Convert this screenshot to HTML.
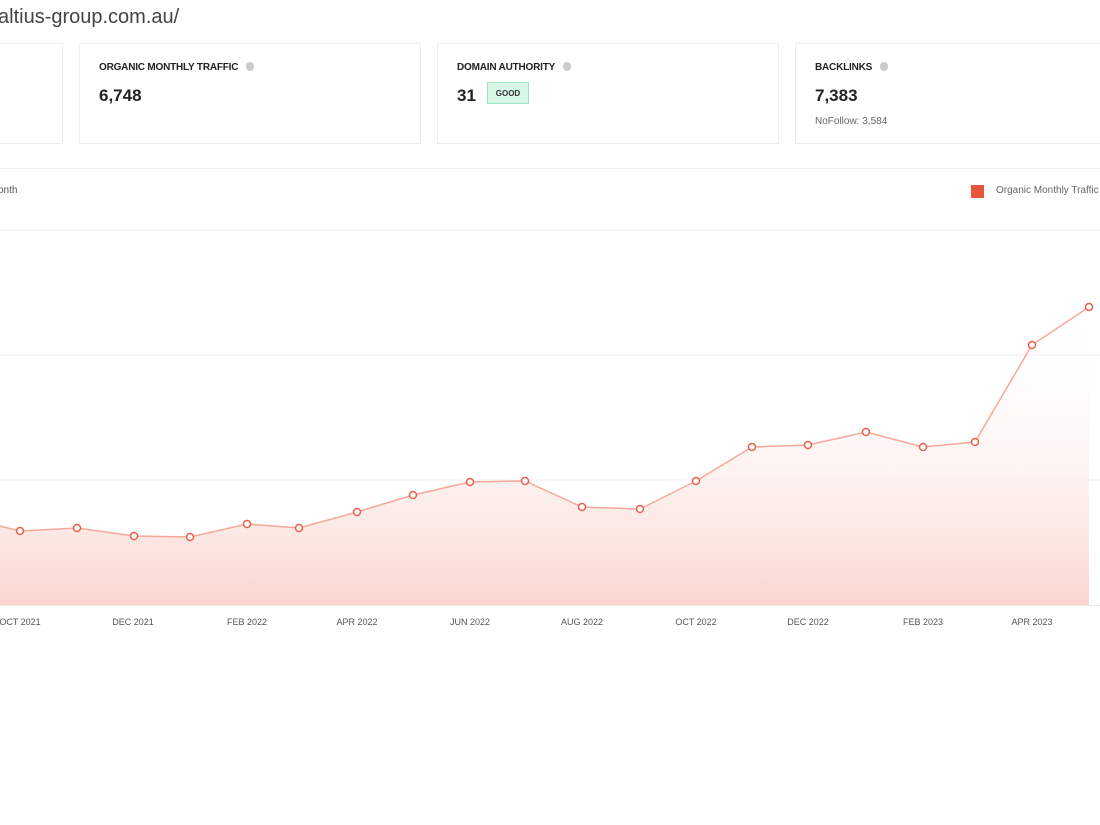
<!DOCTYPE html>
<html><head><meta charset="utf-8"><style>
body{margin:0;width:1100px;height:825px;background:#fff;font-family:"Liberation Sans",sans-serif;position:relative;overflow:hidden}
.t{position:absolute;left:-2px;top:6px;font-size:20px;color:#444}
.c{position:absolute;top:43px;height:101px;border:1px solid #eceef0;background:#fff;box-sizing:border-box}
.h{position:absolute;left:19px;top:18px;font-size:10px;font-weight:bold;color:#222;letter-spacing:-.2px}
.h i{display:inline-block;width:8px;height:9px;border-radius:4px;background:#ccc;margin-left:8px;vertical-align:-1px}
.v{position:absolute;left:19px;top:42px;font-size:17px;font-weight:bold;color:#222}
.g{position:absolute;left:49px;top:38px;width:42px;height:22px;background:#d8f7e6;border:1px solid #9ee6c0;font-size:8px;color:#333;text-align:center;line-height:22px;font-weight:bold;box-sizing:border-box}
.n{position:absolute;left:19px;top:72px;font-size:10px;color:#666}
.xl{position:absolute;top:617px;font-size:9px;color:#555;transform:translateX(-50%)}
</style></head><body>
<div class="t">altius-group.com.au/</div>
<div class="c" style="left:-5px;width:68px"></div>
<div class="c" style="left:79px;width:342px"><div class="h">ORGANIC MONTHLY TRAFFIC<i></i></div><div class="v">6,748</div></div>
<div class="c" style="left:437px;width:342px"><div class="h">DOMAIN AUTHORITY<i></i></div><div class="v">31</div><div class="g">GOOD</div></div>
<div class="c" style="left:795px;width:320px"><div class="h">BACKLINKS<i></i></div><div class="v">7,383</div><div class="n">NoFollow: 3,584</div></div>
<div style="position:absolute;left:0;top:168px;width:1100px;height:1px;background:#f0f0f0"></div>
<div style="position:absolute;left:-2px;top:185px;font-size:10px;color:#555">onth</div>
<div style="position:absolute;left:971px;top:185px;width:13px;height:13px;background:#e8553a"></div>
<div style="position:absolute;left:996px;top:185px;font-size:10px;color:#666;white-space:nowrap">Organic Monthly Traffic</div>
<svg style="position:absolute;left:0;top:0" width="1100" height="825">
<defs><linearGradient id="gr" x1="0" y1="0" x2="0" y2="1"><stop offset="0" stop-color="#fff" stop-opacity="0"/><stop offset="1" stop-color="#f9d6cf"/></linearGradient></defs>
<g stroke="#f4eeee" stroke-width="1"><line x1="0" y1="230" x2="1100" y2="230"/><line x1="0" y1="355" x2="1100" y2="355"/><line x1="0" y1="480" x2="1100" y2="480"/></g>
<line x1="0" y1="605.5" x2="1100" y2="605.5" stroke="#e8e8e8"/>
<path d="M0,526 L20,531 77,528 134,536 190,537 247,524 299,528 357,512 413,495 470,482 525,481 582,507 640,509 696,481 752,447 808,445 866,432 923,447 975,442 1032,345 1089,307 L1089,605 L0,605Z" fill="url(#gr)"/>
<polyline points="0,526 20,531 77,528 134,536 190,537 247,524 299,528 357,512 413,495 470,482 525,481 582,507 640,509 696,481 752,447 808,445 866,432 923,447 975,442 1032,345 1089,307" fill="none" stroke="#f6a899" stroke-width="1.5"/>
<g fill="#fff" stroke="#e8604a" stroke-width="1.5">
<circle cx="20" cy="531" r="3.5"/><circle cx="77" cy="528" r="3.5"/><circle cx="134" cy="536" r="3.5"/><circle cx="190" cy="537" r="3.5"/><circle cx="247" cy="524" r="3.5"/><circle cx="299" cy="528" r="3.5"/><circle cx="357" cy="512" r="3.5"/><circle cx="413" cy="495" r="3.5"/><circle cx="470" cy="482" r="3.5"/><circle cx="525" cy="481" r="3.5"/><circle cx="582" cy="507" r="3.5"/><circle cx="640" cy="509" r="3.5"/><circle cx="696" cy="481" r="3.5"/><circle cx="752" cy="447" r="3.5"/><circle cx="808" cy="445" r="3.5"/><circle cx="866" cy="432" r="3.5"/><circle cx="923" cy="447" r="3.5"/><circle cx="975" cy="442" r="3.5"/><circle cx="1032" cy="345" r="3.5"/><circle cx="1089" cy="307" r="3.5"/>
</g></svg>
<div class="xl" style="left:20px">OCT 2021</div>
<div class="xl" style="left:133px">DEC 2021</div>
<div class="xl" style="left:247px">FEB 2022</div>
<div class="xl" style="left:357px">APR 2022</div>
<div class="xl" style="left:470px">JUN 2022</div>
<div class="xl" style="left:582px">AUG 2022</div>
<div class="xl" style="left:696px">OCT 2022</div>
<div class="xl" style="left:808px">DEC 2022</div>
<div class="xl" style="left:923px">FEB 2023</div>
<div class="xl" style="left:1032px">APR 2023</div>
</body></html>
